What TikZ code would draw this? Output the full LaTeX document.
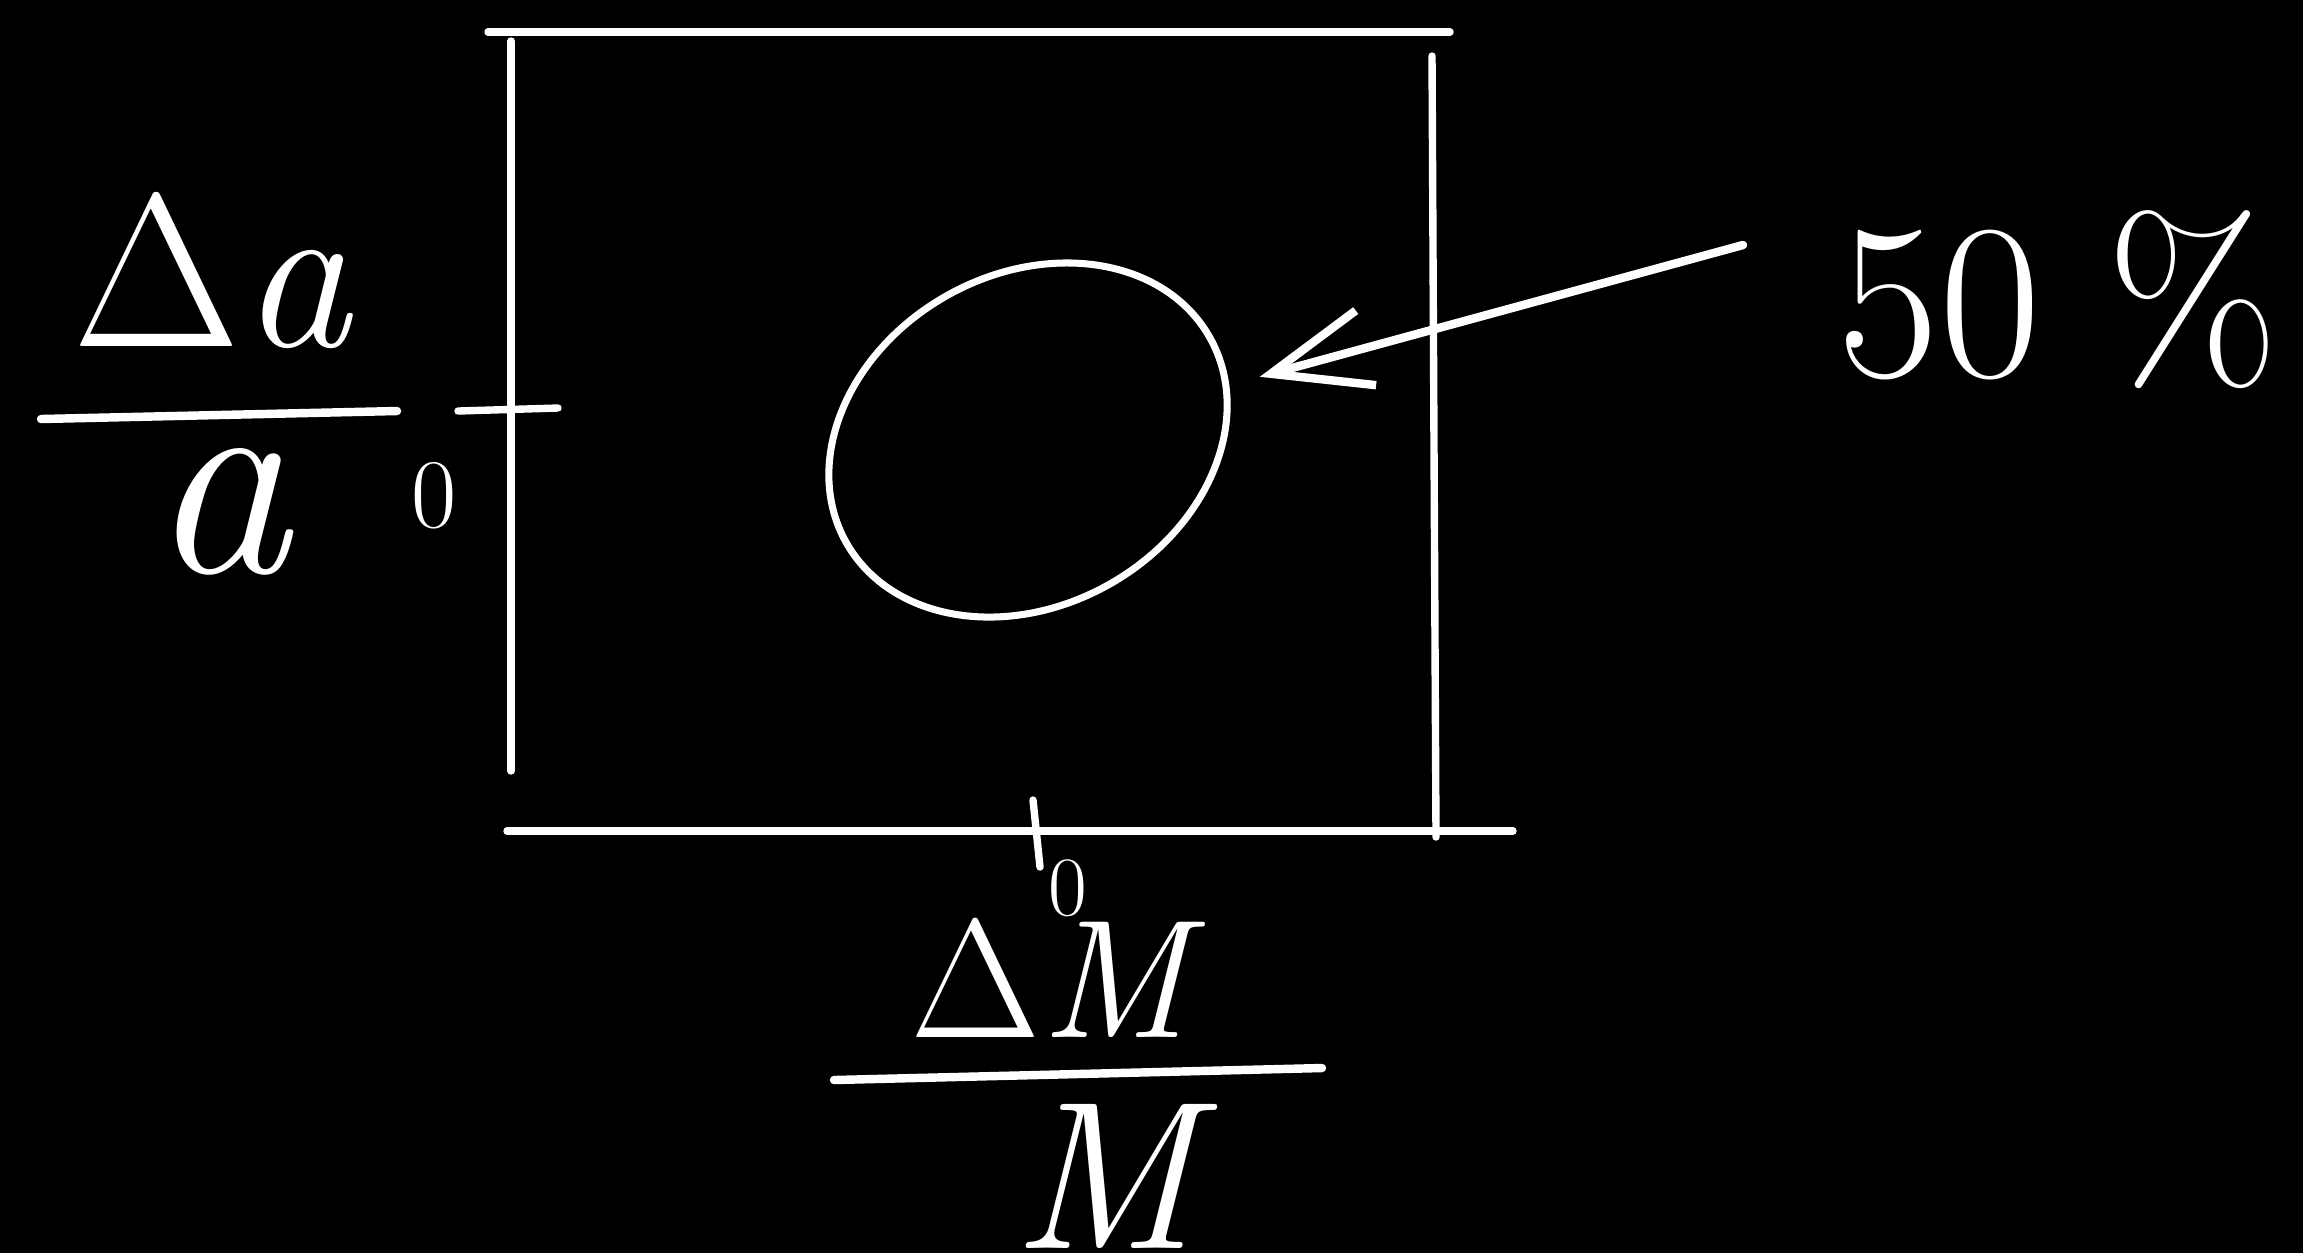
\documentclass[tikz,border=0pt]{standalone}
\usepackage{fontspec}
\usetikzlibrary{arrows.meta,shapes.geometric}
\begin{document}
\begin{tikzpicture}[x=0.01cm,y=-0.01cm,
  chalk/.style={draw=white, line width=2.1pt, line cap=round},
  lbl/.style={text=white, inner sep=0pt},
  barb/.style={-{Straight Barb[length=28pt,width=22pt,line width=2.4pt]}},
]
\fill[black] (0,0) rectangle (2303,1253);
\useasboundingbox (0,0) rectangle (2303,1253);
% frame strokes
\coordinate (t1) at (488,32);   \coordinate (t2) at (1450,32);
\coordinate (l1) at (511,41);   \coordinate (l2) at (511,771);
\coordinate (r1) at (1432,56);  \coordinate (r2) at (1436,837);
\coordinate (b1) at (507,831);  \coordinate (b2) at (1513,831);
\draw[chalk] (t1) -- (t2);
\draw[chalk] (l1) -- (l2);
\draw[chalk] (r1) -- (r2);
\draw[chalk] (b1) -- (b2);
% zero ticks
\coordinate (lt1) at (458,411); \coordinate (lt2) at (558,408);
\coordinate (bt1) at (1033,800); \coordinate (bt2) at (1040,867);
\draw[chalk] (lt1) -- (lt2);
\draw[chalk] (bt1) -- (bt2);
% left label
\node[lbl, font=\fontsize{62}{66}\selectfont] (da) at (213,270) {Δ\textit{a}};
\coordinate (fl1) at (41,419); \coordinate (fl2) at (397,411);
\draw[chalk, line width=2.4pt] (fl1) -- (fl2);
\node[lbl, font=\fontsize{80}{90}\selectfont] (aden) at (222,512) {\textit{a}};
\node[lbl, font=\fontsize{28}{30}\selectfont] (zl) at (434,496) {0};
% bottom label
\node[lbl, font=\fontsize{48}{54}\selectfont] (dm) at (1058,978) {Δ\textit{M}};
\node[lbl, font=\fontsize{24}{28}\selectfont] (zb) at (1068,888) {0};
\coordinate (fb1) at (834,1080); \coordinate (fb2) at (1322,1068);
\draw[chalk, line width=2.4pt] (fb1) -- (fb2);
\node[lbl, font=\fontsize{60}{66}\selectfont] (mden) at (1115,1176) {\textit{M}};
% ellipse
\node[ellipse, draw=white, line width=2pt, inner sep=0pt,
      minimum width=118.7pt, minimum height=94.2pt, rotate=29.5] (blob) at (1028,440) {};
% 50 % label and arrow
\node[lbl, font=\fontsize{63}{70}\selectfont] (pct) at (2058,300) {50 \%};
\coordinate (tail) at (1743,245);
\draw[chalk, line width=2.4pt, barb, shorten >=9pt] (tail) -- (blob);
\end{tikzpicture}
\end{document}
